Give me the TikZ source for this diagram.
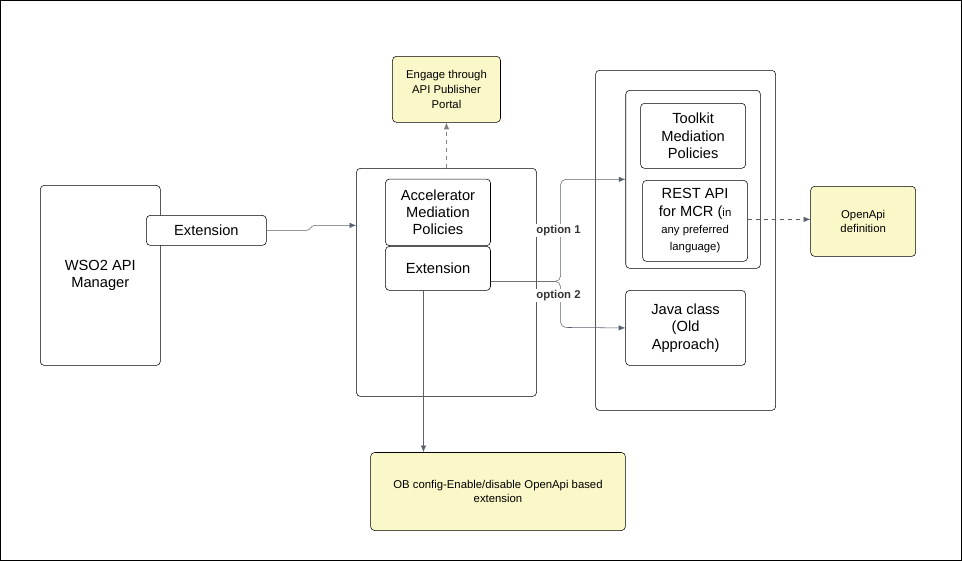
\documentclass[tikz,border=0pt]{standalone}
\usepackage{fontspec}
\setmainfont{Liberation Sans}
\usepackage{tikz}
\usetikzlibrary{calc}
\usetikzlibrary{arrows.meta}

\definecolor{noteyellow}{HTML}{FAF8C8}
\definecolor{linegray}{HTML}{5A6270}

\begin{document}
\begin{tikzpicture}[x=0.75pt,y=-0.75pt,
            box-node/.style={draw,rounded corners=3pt,align=center,inner sep=0pt,font=\fontsize{11}{13}\selectfont},
            note-node/.style={draw,rounded corners=3pt,fill=noteyellow,align=center,inner sep=0pt,font=\fontsize{8.5}{11}\selectfont},
            link/.style={draw=linegray,-{Latex[length=5pt,width=4pt]}},
            dash-link/.style={link,dashed,draw=gray},
            opt-label/.style={font=\bfseries\fontsize{8.5}{10}\selectfont,text=black!80,fill=white,inner sep=1pt},
        ]
            \draw (0,0) rectangle (961,560);

            \node[box-node,minimum width=90pt,minimum height=135pt] (wso2) at (100,275) {WSO2 API\\Manager};
            \node[box-node,fill=white,minimum width=90pt,minimum height=22.5pt] (ext1) at (206,230) {Extension};

            \node[box-node,minimum width=135pt,minimum height=171pt] (mid) at (446,282) {};
            \node[box-node,minimum width=78.75pt,minimum height=50pt] (accel) at (437.5,212) {Accelerator\\Mediation\\Policies};
            \node[box-node,minimum width=78.75pt,minimum height=33pt] (ext2) at (437.5,268) {Extension};
            \node[note-node,minimum width=81pt,minimum height=49.5pt] (engage) at (446,89) {Engage through\\API Publisher\\Portal};

            \node[box-node,minimum width=135pt,minimum height=255pt] (right) at (685,240) {};
            \node[box-node,minimum width=101pt,minimum height=133.5pt] (inner) at (692.5,179) {};
            \node[box-node,minimum width=78.75pt,minimum height=48.75pt] (toolkit) at (692.5,135.5) {Toolkit\\Mediation\\Policies};
            \node[box-node,minimum width=78.75pt,minimum height=60.75pt] (rest) at (694.5,220.5) {REST API\\for MCR ({\fontsize{8.5}{13}\selectfont in}\\{\fontsize{8.5}{13}\selectfont any preferred}\\{\fontsize{8.5}{13}\selectfont language)}};
            \node[box-node,minimum width=90pt,minimum height=56.25pt] (java) at (685,327.5) {Java class\\(Old\\Approach)};
            \node[note-node,minimum width=78.75pt,minimum height=52.5pt] (openapi) at (862.5,221) {OpenApi\\definition};
            \node[note-node,minimum width=191pt,minimum height=58.5pt] (obconf) at (497.5,491) {OB config-Enable/disable OpenApi based\\extension};

            \draw[link] (ext1.east) -- ++(40,0) to[out=0,in=180] ++(8,-5) -- (mid.west |- 0,225);
            \draw[link,rounded corners=4pt] (ext2.east |- 0,281) -- (560,281) -- (560,179) -- (inner.west |- 0,179);
            \draw[link,rounded corners=4pt] (ext2.east |- 0,281) -- (560,281) -- (560,327) -- (java.west);
            \node[opt-label] (opt1) at (558,230) {option 1};
            \node[opt-label] (opt2) at (558,295) {option 2};
            \draw[link] (ext2.south -| 423,0) -- (obconf.north -| 423,0);
            \draw[dash-link] (mid.north -| engage.south) -- (engage.south);
            \draw[dash-link,draw=linegray] (rest.east |- 0,219) -- (openapi.west |- 0,219);
        \end{tikzpicture}
\end{document}
